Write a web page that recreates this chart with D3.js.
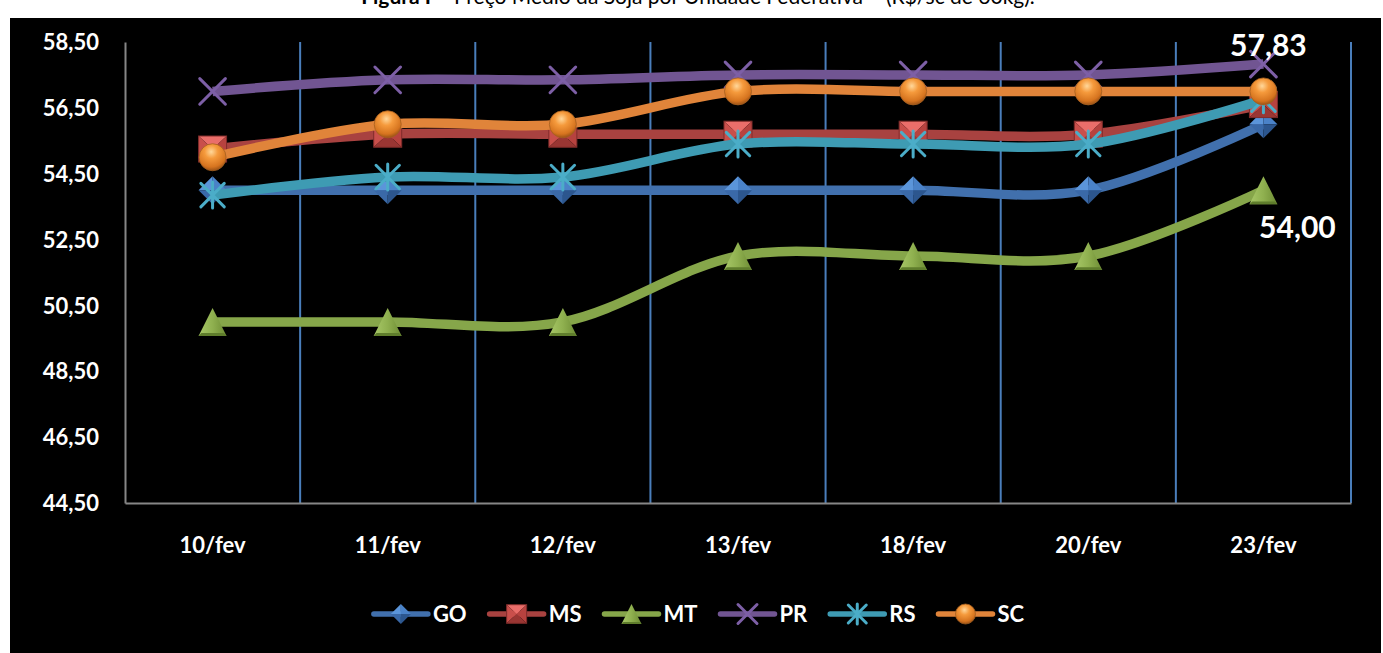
<!DOCTYPE html>
<html>
<head>
<meta charset="utf-8">
<script src="https://cdn.jsdelivr.net/npm/d3@7"></script>
<style>
  html, body { margin: 0; padding: 0; background: #ffffff; }
  svg { display: block; }
  text { font-family: Lato, "Open Sans", sans-serif; }
</style>
</head>
<body>
<svg id="chart" width="1383" height="653"></svg>
<script>
// Preço médio da soja por UF (R$/sc de 60kg)
const categories = ["10/fev", "11/fev", "12/fev", "13/fev", "18/fev", "20/fev", "23/fev"];
const goValues = [54.00, 54.00, 54.00, 54.00, 54.00, 54.00, 56.00];
const msValues = [55.25, 55.70, 55.70, 55.70, 55.70, 55.70, 56.60];
const mtValues = [50.00, 50.00, 50.00, 52.00, 52.00, 52.00, 54.00];
const prValues = [57.00, 57.35, 57.35, 57.50, 57.50, 57.50, 57.83];
const rsValues = [53.85, 54.40, 54.40, 55.40, 55.40, 55.40, 56.75];
const scValues = [55.00, 56.00, 56.00, 57.00, 57.00, 57.00, 57.00];
const seriesNames = ["GO", "MS", "MT", "PR", "RS", "SC"];
const yTickValues = [44.5, 46.5, 48.5, 50.5, 52.5, 54.5, 56.5, 58.5];
const titleText = "Preço Médio da Soja por Unidade Federativa – (R$/sc de 60kg).";

const series = [
  { name: "GO", values: goValues, color: "#4170ad", marker: "diamond" },
  { name: "MS", values: msValues, color: "#a84240", marker: "square" },
  { name: "MT", values: mtValues, color: "#86a64a", marker: "triangle" },
  { name: "PR", values: prValues, color: "#715592", marker: "x" },
  { name: "RS", values: rsValues, color: "#3e9bb3", marker: "star" },
  { name: "SC", values: scValues, color: "#e0843a", marker: "circle" }
];

const ptBR = d3.formatLocale({ decimal: ",", thousands: ".", grouping: [3], currency: ["R$", ""] });
const fmt = ptBR.format(".2f");

const svg = d3.select("#chart");

// gradients for the shaded markers
const defs = svg.append("defs");
const sphere = defs.append("radialGradient").attr("id", "sphereSC")
  .attr("cx", "45%").attr("cy", "30%").attr("r", "70%");
sphere.append("stop").attr("offset", "0%").attr("stop-color", "#ffd79a");
sphere.append("stop").attr("offset", "35%").attr("stop-color", "#f59a3c");
sphere.append("stop").attr("offset", "80%").attr("stop-color", "#d6741f");
sphere.append("stop").attr("offset", "100%").attr("stop-color", "#9c5216");
const tri = defs.append("linearGradient").attr("id", "triMT")
  .attr("x1", "0%").attr("y1", "0%").attr("x2", "100%").attr("y2", "0%");
tri.append("stop").attr("offset", "0%").attr("stop-color", "#a8c868");
tri.append("stop").attr("offset", "50%").attr("stop-color", "#8fb04f");
tri.append("stop").attr("offset", "100%").attr("stop-color", "#6d8c34");

// chart area
svg.append("rect").attr("x", 10).attr("y", 18).attr("width", 1371).attr("height", 640).attr("fill", "#000000");

// title (runs above the chart area)
const title = svg.append("text").attr("x", 698).attr("y", 4).attr("text-anchor", "middle")
  .attr("font-size", 21).attr("fill", "#000000");
title.append("tspan").attr("font-weight", "bold").text("Figura I");
title.append("tspan").text(" – " + titleText);

const plot = { left: 125, right: 1351, top: 42, bottom: 503 };

const x = d3.scaleBand().domain(categories).range([plot.left, plot.right]).paddingInner(0).paddingOuter(0);
const y = d3.scaleLinear().domain([44.5, 58.5]).range([plot.bottom, plot.top]);
const cx = c => x(c) + x.bandwidth() / 2;

// vertical gridlines at category boundaries
const boundaries = categories.map(c => x(c) + x.bandwidth());
svg.append("g").selectAll("line").data(boundaries).join("line")
  .attr("x1", d => d).attr("x2", d => d)
  .attr("y1", plot.top).attr("y2", plot.bottom)
  .attr("stroke", "#4a7ebb").attr("stroke-width", 2);

// y axis
const yAxis = d3.axisLeft(y).tickValues(yTickValues).tickFormat(fmt).tickSize(0).tickPadding(26);
const gy = svg.append("g").attr("transform", `translate(${plot.left},0)`).call(yAxis);
gy.select(".domain").attr("stroke", "#868686").attr("stroke-width", 2);
gy.selectAll("text").attr("fill", "#ffffff").attr("font-size", 22).attr("font-weight", "bold")
  .attr("font-family", "Lato, sans-serif").attr("dy", "0.35em");

// x axis
const xAxis = d3.axisBottom(x).tickSize(0).tickPadding(34);
const gx = svg.append("g").attr("transform", `translate(0,${plot.bottom})`).call(xAxis);
gx.select(".domain").attr("stroke", "#868686").attr("stroke-width", 2);
gx.selectAll("text").attr("fill", "#ffffff").attr("font-size", 22).attr("font-weight", "bold")
  .attr("font-family", "Lato, sans-serif");

// marker drawing
function drawMarker(g, type, color, s) {
  const h = s / 2;
  if (type === "diamond") {
    g.append("path").attr("d", `M${-h},0L0,${-h}L0,0Z`).attr("fill", "#5b95da");
    g.append("path").attr("d", `M0,${-h}L${h},0L0,0Z`).attr("fill", "#4a82c8");
    g.append("path").attr("d", `M${-h},0L0,${h}L0,0Z`).attr("fill", "#3a69a8");
    g.append("path").attr("d", `M${h},0L0,${h}L0,0Z`).attr("fill", "#2c568e");
  } else if (type === "square") {
    const hy = h * 0.93;
    g.append("path").attr("d", `M${-h},${-hy}L${h},${-hy}L0,0Z`).attr("fill", "#ea6e6a");
    g.append("path").attr("d", `M${-h},${-hy}L${-h},${hy}L0,0Z`).attr("fill", "#c94f4b");
    g.append("path").attr("d", `M${h},${-hy}L${h},${hy}L0,0Z`).attr("fill", "#b7423f");
    g.append("path").attr("d", `M${-h},${hy}L${h},${hy}L0,0Z`).attr("fill", "#9a3633");
    g.append("rect").attr("x", -h).attr("y", -hy).attr("width", s).attr("height", 2 * hy)
      .attr("fill", "none").attr("stroke", "#7f2c2a").attr("stroke-width", 1);
  } else if (type === "triangle") {
    g.append("path").attr("d", `M0,${-h}L${h},${h}L${-h},${h}Z`).attr("fill", "url(#triMT)");
    g.append("path").attr("d", `M${-h},${h}L${h},${h}L${h * 0.8},${h * 0.8}L${-h * 0.8},${h * 0.8}Z`).attr("fill", "#5f7d2c");
  } else if (type === "x") {
    const k = h * 0.95;
    g.append("path").attr("d", `M${-k},${-k}L${k},${k}M${k},${-k}L${-k},${k}`)
      .attr("stroke", "#7d5fa6").attr("stroke-width", 3).attr("stroke-linecap", "round");
  } else if (type === "star") {
    const k = h * 0.9;
    g.append("path").attr("d", `M${-k},${-k}L${k},${k}M${k},${-k}L${-k},${k}M0,${-h}L0,${h}`)
      .attr("stroke", "#4badc8").attr("stroke-width", 3).attr("stroke-linecap", "round");
  } else if (type === "circle") {
    g.append("circle").attr("r", h).attr("fill", "url(#sphereSC)")
      .attr("stroke", "#a5601f").attr("stroke-width", 0.8);
  }
}

const line = d3.line()
  .x((d, i) => cx(categories[i]))
  .y(d => y(d))
  .curve(d3.curveCatmullRom.alpha(0));

const sizes = { diamond: 28, square: 28, triangle: 28, x: 27, star: 26, circle: 27 };

series.forEach(s => {
  const g = svg.append("g").attr("class", "series");
  g.append("path").datum(s.values).attr("d", line)
    .attr("fill", "none").attr("stroke", s.color).attr("stroke-width", 9.5)
    .attr("stroke-linejoin", "round");
  s.values.forEach((v, i) => {
    const m = g.append("g").attr("transform", `translate(${cx(categories[i])},${y(v)})`);
    drawMarker(m, s.marker, s.color, sizes[s.marker]);
  });
});

// value labels on the last date
const last = categories.length - 1;
svg.append("text").attr("x", cx(categories[last]) + 5).attr("y", y(prValues[last]) - 8)
  .attr("text-anchor", "middle").attr("font-size", 30).attr("font-weight", "bold")
  .attr("fill", "#ffffff").text(fmt(prValues[last]));
svg.append("text").attr("x", cx(categories[last]) + 34).attr("y", y(mtValues[last]) + 48)
  .attr("text-anchor", "middle").attr("font-size", 30).attr("font-weight", "bold")
  .attr("fill", "#ffffff").text(fmt(mtValues[last]));

// legend
const legend = svg.append("g").attr("transform", "translate(0,614)");
const lineLen = 54, textGap = 5, entryGap = 23;
let lx = 0;
const entries = [];
series.forEach(s => {
  const e = legend.append("g");
  e.append("line").attr("x1", 0).attr("x2", lineLen).attr("y1", 0).attr("y2", 0)
    .attr("stroke", s.color).attr("stroke-width", 5.5).attr("stroke-linecap", "round");
  const m = e.append("g").attr("transform", `translate(${lineLen / 2},0)`);
  drawMarker(m, s.marker, s.color, 20);
  const t = e.append("text").attr("x", lineLen + textGap).attr("y", 0).attr("dy", "0.36em")
    .attr("font-size", 22).attr("font-weight", "bold").attr("fill", "#ffffff").text(s.name);
  const w = lineLen + textGap + t.node().getComputedTextLength();
  entries.push({ e, w });
});
const totalW = entries.reduce((a, b) => a + b.w, 0) + entryGap * (entries.length - 1);
lx = 699 - totalW / 2;
entries.forEach(({ e, w }) => {
  e.attr("transform", `translate(${lx},0)`);
  lx += w + entryGap;
});
</script>
</body>
</html>
